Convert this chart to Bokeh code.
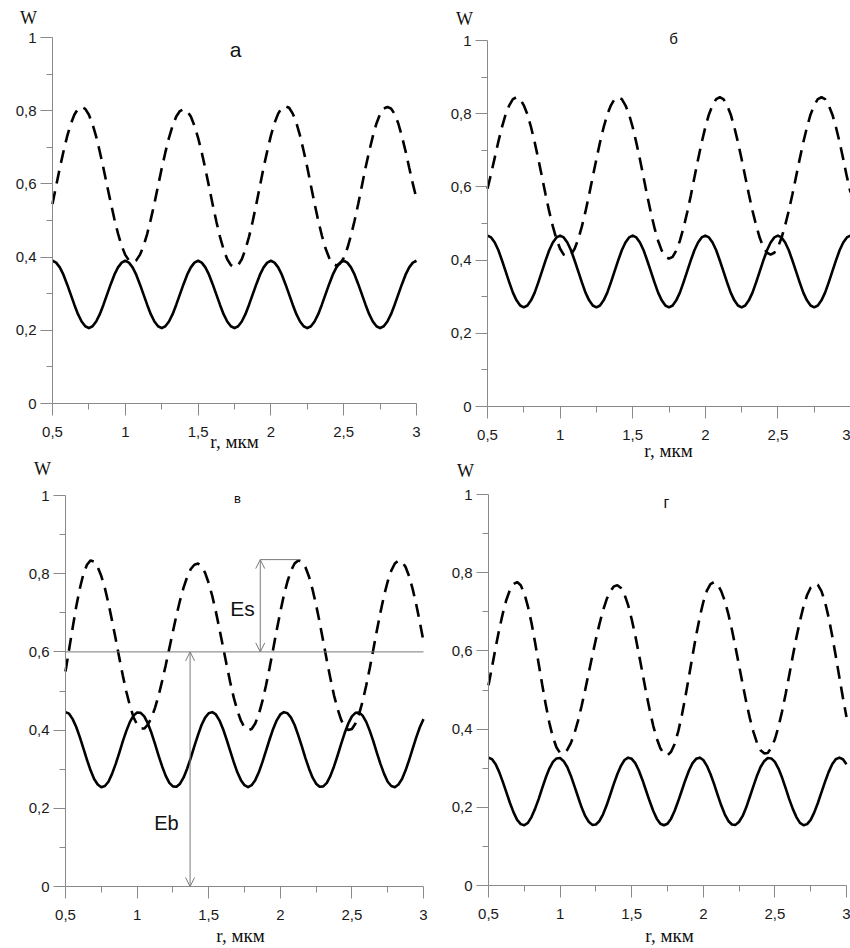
from bokeh.plotting import figure
from bokeh.layouts import row, column
from bokeh.models import Range1d, FixedTicker, Label, Arrow, OpenHead
from bokeh.embed import file_html
from bokeh.resources import INLINE

# ---------------- data ----------------
R = [round(0.5 + 0.025 * i, 3) for i in range(101)]  # r, мкм

X_TICKS = [0.5, 1, 1.5, 2, 2.5, 3]
X_LABELS = ["0,5", "1", "1,5", "2", "2,5", "3"]
X_MINOR = [0.75, 1.25, 1.75, 2.25, 2.75]
Y_TICKS = [0, 0.2, 0.4, 0.6, 0.8, 1]
Y_LABELS = ["0", "0,2", "0,4", "0,6", "0,8", "1"]
Y_MINOR = [0.1, 0.3, 0.5, 0.7, 0.9]
X_LIMITS = (0.5, 3.0)
Y_LIMITS = (0.0, 1.0)

PANEL_TITLES = ["а", "б", "в", "г"]
X_TITLE = "r, мкм"
Y_TITLE = "W"

# panel а
SOLID_A = [
    0.390, 0.385, 0.372, 0.352, 0.326, 0.298, 0.270, 0.244, 0.224, 0.211,
    0.206, 0.211, 0.224, 0.244, 0.270, 0.298, 0.326, 0.352, 0.372, 0.385,
    0.390, 0.385, 0.372, 0.352, 0.326, 0.298, 0.270, 0.244, 0.224, 0.211,
    0.206, 0.211, 0.224, 0.244, 0.270, 0.298, 0.326, 0.352, 0.372, 0.385,
    0.390, 0.385, 0.372, 0.352, 0.326, 0.298, 0.270, 0.244, 0.224, 0.211,
    0.206, 0.211, 0.224, 0.244, 0.270, 0.298, 0.326, 0.352, 0.372, 0.385,
    0.390, 0.385, 0.372, 0.352, 0.326, 0.298, 0.270, 0.244, 0.224, 0.211,
    0.206, 0.211, 0.224, 0.244, 0.270, 0.298, 0.326, 0.352, 0.372, 0.385,
    0.390, 0.385, 0.372, 0.352, 0.326, 0.298, 0.270, 0.244, 0.224, 0.211,
    0.206, 0.211, 0.224, 0.244, 0.270, 0.298, 0.326, 0.352, 0.372, 0.385,
    0.390,
]
DASH_A = [
    0.545, 0.595, 0.643, 0.688, 0.729, 0.763, 0.789, 0.805, 0.810, 0.805,
    0.789, 0.763, 0.729, 0.688, 0.643, 0.595, 0.549, 0.504, 0.464, 0.431,
    0.406, 0.391, 0.386, 0.391, 0.406, 0.430, 0.463, 0.503, 0.547, 0.595,
    0.642, 0.686, 0.726, 0.759, 0.784, 0.799, 0.804, 0.799, 0.784, 0.759,
    0.726, 0.686, 0.641, 0.593, 0.544, 0.498, 0.456, 0.421, 0.394, 0.378,
    0.372, 0.378, 0.394, 0.421, 0.456, 0.498, 0.545, 0.595, 0.645, 0.690,
    0.732, 0.767, 0.792, 0.808, 0.812, 0.808, 0.792, 0.767, 0.732, 0.690,
    0.645, 0.595, 0.546, 0.500, 0.459, 0.424, 0.398, 0.382, 0.377, 0.382,
    0.398, 0.424, 0.459, 0.500, 0.546, 0.595, 0.644, 0.689, 0.730, 0.765,
    0.791, 0.806, 0.810, 0.806, 0.791, 0.765, 0.730, 0.689, 0.644, 0.600,
    0.560,
]

# panel б
SOLID_B = [
    0.467, 0.462, 0.448, 0.427, 0.399, 0.369, 0.339, 0.311, 0.290, 0.276,
    0.271, 0.276, 0.290, 0.311, 0.339, 0.369, 0.399, 0.427, 0.448, 0.462,
    0.467, 0.462, 0.448, 0.427, 0.399, 0.369, 0.339, 0.311, 0.290, 0.276,
    0.271, 0.276, 0.290, 0.311, 0.339, 0.369, 0.399, 0.427, 0.448, 0.462,
    0.467, 0.462, 0.448, 0.427, 0.399, 0.369, 0.339, 0.311, 0.290, 0.276,
    0.271, 0.276, 0.290, 0.311, 0.339, 0.369, 0.399, 0.427, 0.448, 0.462,
    0.467, 0.462, 0.448, 0.427, 0.399, 0.369, 0.339, 0.311, 0.290, 0.276,
    0.271, 0.276, 0.290, 0.311, 0.339, 0.369, 0.399, 0.427, 0.448, 0.462,
    0.467, 0.462, 0.448, 0.427, 0.399, 0.369, 0.339, 0.311, 0.290, 0.276,
    0.271, 0.276, 0.290, 0.311, 0.339, 0.369, 0.399, 0.427, 0.448, 0.462,
    0.467,
]
DASH_B = [
    0.595, 0.636, 0.680, 0.724, 0.764, 0.798, 0.823, 0.840, 0.845, 0.840,
    0.823, 0.798, 0.763, 0.722, 0.676, 0.628, 0.579, 0.533, 0.492, 0.457,
    0.431, 0.415, 0.410, 0.415, 0.431, 0.457, 0.492, 0.533, 0.579, 0.628,
    0.676, 0.722, 0.763, 0.798, 0.823, 0.840, 0.845, 0.840, 0.823, 0.798,
    0.763, 0.721, 0.675, 0.626, 0.576, 0.530, 0.488, 0.453, 0.426, 0.409,
    0.404, 0.409, 0.426, 0.453, 0.488, 0.530, 0.576, 0.626, 0.675, 0.721,
    0.763, 0.798, 0.823, 0.840, 0.845, 0.840, 0.823, 0.798, 0.763, 0.722,
    0.676, 0.628, 0.580, 0.535, 0.495, 0.461, 0.435, 0.420, 0.415, 0.420,
    0.435, 0.461, 0.495, 0.535, 0.580, 0.628, 0.676, 0.722, 0.763, 0.798,
    0.823, 0.840, 0.845, 0.840, 0.823, 0.798, 0.763, 0.722, 0.676, 0.628,
    0.585,
]

# panel в
SOLID_C = [
    0.446, 0.442, 0.428, 0.408, 0.382, 0.353, 0.324, 0.297, 0.275, 0.261,
    0.254, 0.257, 0.268, 0.288, 0.313, 0.341, 0.371, 0.398, 0.421, 0.437,
    0.445, 0.444, 0.435, 0.417, 0.393, 0.365, 0.335, 0.307, 0.283, 0.265,
    0.256, 0.255, 0.263, 0.279, 0.302, 0.329, 0.359, 0.387, 0.413, 0.432,
    0.443, 0.446, 0.440, 0.425, 0.403, 0.376, 0.347, 0.318, 0.292, 0.272,
    0.259, 0.254, 0.259, 0.272, 0.292, 0.318, 0.347, 0.376, 0.403, 0.425,
    0.440, 0.446, 0.443, 0.432, 0.413, 0.387, 0.359, 0.329, 0.302, 0.279,
    0.263, 0.255, 0.256, 0.265, 0.283, 0.307, 0.335, 0.365, 0.393, 0.417,
    0.435, 0.444, 0.445, 0.437, 0.421, 0.398, 0.371, 0.341, 0.313, 0.288,
    0.268, 0.257, 0.254, 0.261, 0.275, 0.297, 0.324, 0.353, 0.382, 0.408,
    0.428,
]
DASH_C = [
    0.550, 0.606, 0.662, 0.716, 0.762, 0.799, 0.823, 0.834, 0.831, 0.817,
    0.794, 0.763, 0.724, 0.680, 0.634, 0.586, 0.540, 0.498, 0.462, 0.433,
    0.414, 0.404, 0.404, 0.414, 0.431, 0.457, 0.488, 0.526, 0.566, 0.609,
    0.652, 0.694, 0.732, 0.765, 0.792, 0.812, 0.823, 0.826, 0.819, 0.802,
    0.776, 0.743, 0.703, 0.659, 0.613, 0.567, 0.523, 0.483, 0.450, 0.424,
    0.407, 0.400, 0.403, 0.417, 0.441, 0.474, 0.514, 0.559, 0.607, 0.656,
    0.702, 0.745, 0.780, 0.808, 0.826, 0.834, 0.831, 0.817, 0.793, 0.760,
    0.720, 0.675, 0.627, 0.578, 0.532, 0.489, 0.454, 0.426, 0.408, 0.400,
    0.403, 0.417, 0.441, 0.474, 0.514, 0.559, 0.607, 0.656, 0.702, 0.745,
    0.780, 0.808, 0.826, 0.834, 0.831, 0.817, 0.793, 0.760, 0.720, 0.675,
    0.627,
]

# panel г
SOLID_D = [
    0.327, 0.323, 0.310, 0.290, 0.265, 0.238, 0.211, 0.187, 0.168, 0.157,
    0.154, 0.160, 0.175, 0.196, 0.221, 0.249, 0.276, 0.299, 0.316, 0.325,
    0.326, 0.318, 0.303, 0.281, 0.254, 0.227, 0.200, 0.178, 0.163, 0.155,
    0.156, 0.165, 0.182, 0.205, 0.232, 0.260, 0.285, 0.306, 0.321, 0.327,
    0.324, 0.313, 0.294, 0.270, 0.243, 0.216, 0.191, 0.171, 0.158, 0.154,
    0.158, 0.171, 0.191, 0.216, 0.243, 0.270, 0.294, 0.313, 0.324, 0.327,
    0.321, 0.306, 0.285, 0.260, 0.232, 0.205, 0.182, 0.165, 0.156, 0.155,
    0.163, 0.178, 0.200, 0.227, 0.254, 0.281, 0.303, 0.318, 0.326, 0.325,
    0.316, 0.299, 0.276, 0.249, 0.221, 0.196, 0.175, 0.160, 0.154, 0.157,
    0.168, 0.187, 0.211, 0.238, 0.265, 0.290, 0.310, 0.323, 0.327, 0.323,
    0.310,
]
DASH_D = [
    0.512, 0.560, 0.609, 0.655, 0.696, 0.731, 0.756, 0.771, 0.776, 0.768,
    0.747, 0.714, 0.672, 0.622, 0.568, 0.514, 0.462, 0.416, 0.379, 0.353,
    0.339, 0.338, 0.347, 0.364, 0.389, 0.421, 0.459, 0.500, 0.544, 0.588,
    0.630, 0.669, 0.704, 0.732, 0.752, 0.765, 0.768, 0.761, 0.744, 0.717,
    0.681, 0.639, 0.592, 0.544, 0.495, 0.450, 0.409, 0.376, 0.351, 0.337,
    0.333, 0.342, 0.362, 0.394, 0.435, 0.483, 0.535, 0.588, 0.640, 0.686,
    0.725, 0.754, 0.771, 0.776, 0.770, 0.753, 0.728, 0.694, 0.654, 0.609,
    0.562, 0.515, 0.469, 0.428, 0.393, 0.365, 0.346, 0.338, 0.339, 0.352,
    0.374, 0.406, 0.445, 0.490, 0.538, 0.587, 0.634, 0.677, 0.714, 0.743,
    0.762, 0.771, 0.769, 0.753, 0.725, 0.686, 0.639, 0.587, 0.533, 0.480,
    0.431,
]

# energy annotation of panel в
E_LEVEL = 0.6
ES_TOP = 0.836
EB_X = 1.37
ES_X = 1.86
ES_CAP_END = 2.14

# ---------------- style ----------------
GRAY = "#8a8a8a"
ANN_GRAY = "#7a7a7a"
SANS = "Liberation Sans"
SERIF = "Liberation Serif"
LW = 2.6
DASH = "13 8"


def make_panel(cw, ch, px_lo, px_hi, py_hi, py_lo):
    """Figure whose frame fills the canvas; (px_lo, px_hi) are the canvas
    pixels of x = 0.5 and 3, (py_hi, py_lo) those of y = 1 and 0."""
    kx = (px_hi - px_lo) / (X_LIMITS[1] - X_LIMITS[0])
    ky = (py_lo - py_hi) / (Y_LIMITS[1] - Y_LIMITS[0])
    xr = Range1d(X_LIMITS[0] - px_lo / kx, X_LIMITS[1] + (cw - px_hi) / kx)
    yr = Range1d(Y_LIMITS[0] - (ch - py_lo) / ky, Y_LIMITS[1] + py_hi / ky)
    p = figure(width=cw, height=ch, x_range=xr, y_range=yr,
               output_backend="svg", toolbar_location=None,
               min_border_left=0, min_border_right=0,
               min_border_top=0, min_border_bottom=0)
    p.outline_line_color = None
    p.xgrid.visible = False
    p.ygrid.visible = False
    p.background_fill_color = "white"
    p.border_fill_color = "white"
    p.xaxis.fixed_location = Y_LIMITS[0]
    p.yaxis.fixed_location = X_LIMITS[0]
    specs = ((p.xaxis[0], X_TICKS, X_MINOR, X_LABELS, X_LIMITS, 11),
             (p.yaxis[0], Y_TICKS, Y_MINOR, Y_LABELS, Y_LIMITS, 4))
    for ax, ticks, minor, labels, bounds, standoff in specs:
        ax.ticker = FixedTicker(ticks=ticks, minor_ticks=minor)
        ax.major_label_overrides = dict(zip(ticks, labels))
        ax.bounds = bounds
        ax.axis_line_color = GRAY
        ax.axis_line_width = 1
        ax.major_tick_line_color = GRAY
        ax.minor_tick_line_color = GRAY
        ax.major_tick_in = 0
        ax.major_tick_out = 12
        ax.minor_tick_in = 0
        ax.minor_tick_out = 6
        ax.major_label_standoff = standoff
        ax.major_label_text_font = SANS
        ax.major_label_text_font_size = "15px"
        ax.major_label_text_color = "#1a1a1a"

    def to_data(px, py):
        return (X_LIMITS[0] + (px - px_lo) / kx, Y_LIMITS[0] + (py_lo - py) / ky)

    return p, to_data


def add_text(p, to_data, px, py, text, font, size):
    x, y = to_data(px, py)
    p.add_layout(Label(x=x, y=y, text=text, text_font=font,
                       text_font_size=size, text_align="center",
                       text_baseline="alphabetic", text_color="#111111"))


def add_curves(p, solid, dashed):
    p.line(R, solid, line_color="black", line_width=LW, line_join="round")
    p.line(R, dashed, line_color="black", line_width=LW, line_dash=DASH)


# panel а : canvas (0,0)-(440,455)
pa, ta = make_panel(440, 455, 52, 416, 37, 403)
add_curves(pa, SOLID_A, DASH_A)
add_text(pa, ta, 28, 17, Y_TITLE, SERIF, "18px")
add_text(pa, ta, 235, 49, PANEL_TITLES[0], SANS, "21px")
add_text(pa, ta, 234, 441, X_TITLE, SERIF, "19px")

# panel б : canvas (440,0)-(850,462)
pb, tb = make_panel(410, 462, 47, 410, 40, 406)
add_curves(pb, SOLID_B, DASH_B)
add_text(pb, tb, 24, 18, Y_TITLE, SERIF, "18px")
add_text(pb, tb, 233, 38, PANEL_TITLES[1], SANS, "15px")
add_text(pb, tb, 228, 450, X_TITLE, SERIF, "19px")

# panel в : canvas (0,455)-(440,948)
pc, tc = make_panel(440, 493, 65, 423, 40, 431)
add_curves(pc, SOLID_C, DASH_C)
add_text(pc, tc, 42, 13, Y_TITLE, SERIF, "18px")
add_text(pc, tc, 237, 43, PANEL_TITLES[2], SANS, "13px")
add_text(pc, tc, 240, 480, X_TITLE, SERIF, "19px")
pc.segment(x0=[X_LIMITS[0], ES_X], y0=[E_LEVEL, ES_TOP],
           x1=[X_LIMITS[1], ES_CAP_END], y1=[E_LEVEL, ES_TOP],
           line_color=ANN_GRAY, line_width=1)
for xa, y0, y1 in ((EB_X, Y_LIMITS[0], E_LEVEL), (ES_X, E_LEVEL, ES_TOP)):
    pc.add_layout(Arrow(
        start=OpenHead(size=9, line_color=ANN_GRAY, line_width=1),
        end=OpenHead(size=9, line_color=ANN_GRAY, line_width=1),
        x_start=xa, y_start=y0, x_end=xa, y_end=y1,
        line_color=ANN_GRAY, line_width=1))
add_text(pc, tc, 242, 153, "Es", SANS, "21px")
add_text(pc, tc, 166, 367, "Eb", SANS, "20px")

# panel г : canvas (440,462)-(850,948)
pd, td = make_panel(410, 486, 48, 406, 32, 423)
add_curves(pd, SOLID_D, DASH_D)
add_text(pd, td, 25, 8, Y_TITLE, SERIF, "18px")
add_text(pd, td, 226, 40, PANEL_TITLES[3], SANS, "16px")
add_text(pd, td, 229, 473, X_TITLE, SERIF, "19px")

layout = row(column(pa, pc), column(pb, pd))
open("out.html", "w").write(file_html(layout, INLINE))
